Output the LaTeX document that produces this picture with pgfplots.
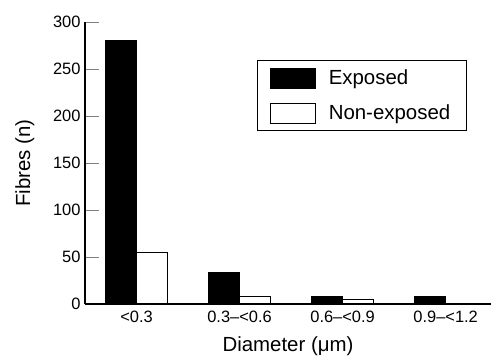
\documentclass[border=0pt]{standalone}
\usepackage{pgfplots}
\pgfplotsset{compat=1.18}
\usepackage{fontspec}
\setmainfont{Liberation Sans}
\begin{document}
\begin{tikzpicture}
\useasboundingbox (-85bp,-52bp) rectangle (406bp,304bp);
\begin{axis}[
  at={(0,0)}, anchor=south west,
  scale only axis, width=406bp, height=282bp,
  xmin=-0.5, xmax=3.44, ymin=0, ymax=300,
  axis x line=bottom, axis y line=left,
  axis line style={-, line width=1.3pt},
  tick align=inside,
  major tick length=14bp,
  xtick={0,1,2,3},
  xticklabels={<0.3, 0.3–<0.6, 0.6–<0.9, 0.9–<1.2},
  xtick style={draw=none},
  extra x ticks={0.5,1.5,2.5},
  extra x tick labels={},
  extra x tick style={tick style={draw=black, line width=0.9pt}, major tick length=15bp},
  ytick={0,50,...,300},
  ytick style={line width=0.9pt},
  /pgf/number format/assume math mode=true,
  tick label style={font=\fontsize{16.5}{19}\selectfont},
  label style={font=\fontsize{20.5}{23}\selectfont},
  xlabel={Diameter (μm)},
  ylabel={Fibres (n)},
  ylabel style={at={(axis description cs:-0.148,0.5)}, anchor=center},
  xlabel style={at={(axis description cs:0.5,-0.148)}, anchor=center},
  xticklabel style={anchor=north, yshift=-4bp},
  yticklabel style={anchor=east, xshift=-1bp},
  legend style={at={(axis description cs:0.4236,0.8652)}, anchor=north west,
    draw=black, line width=0.8pt, font=\fontsize{20.5}{23}\selectfont,
    inner sep=0pt, row sep=0pt, column sep=13bp,
    nodes={inner sep=0pt},
    cells={anchor=west}},
  legend image code/.code={\path[draw=none, fill=none] (-13bp,-17.5bp) rectangle (45bp,17.5bp);\draw[#1, line width=0.8pt] (0bp,-10bp) rectangle (45bp,10bp);},
  every axis plot/.append style={draw=black, line width=1.1pt},
]
\addplot[ybar, bar width=0.3, bar shift=-0.15, fill=black] coordinates {(0,280) (1,33) (2,8) (3,8)};
\addplot[ybar, bar width=0.3, bar shift=0.15, fill=white] coordinates {(0,55) (1,8) (2,4.5)};
\legend{Exposed, Non-exposed\hspace*{16bp}}
\end{axis}
\end{tikzpicture}
\end{document}
